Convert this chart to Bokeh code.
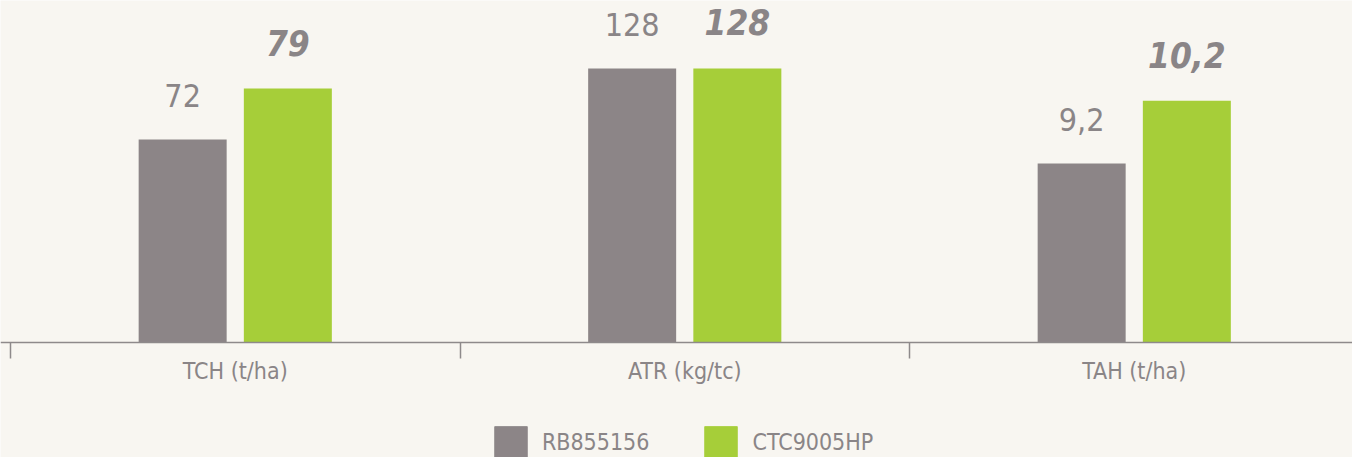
from bokeh.plotting import figure
from bokeh.models import Range1d, FixedTicker, Legend, LegendItem, LinearAxis
from bokeh.embed import file_html
from bokeh.resources import INLINE
from bokeh.core.properties import value

# ---- data -------------------------------------------------------------
categories = ["TCH (t/ha)", "ATR (kg/tc)", "TAH (t/ha)"]
series_names = ["RB855156", "CTC9005HP"]
rb855156 = [72, 128, 9.2]
ctc9005hp = [79, 128, 10.2]

# each indicator is drawn on its own value scale (as in the original):
# value at the category axis line, value at the top of the plot area
axis_min = [44.2, 0, 6.35]
axis_top = [91.1, 159.8, 11.8]

# ---- style / layout ---------------------------------------------------
FONT = "'Liberation Sans Narrow', 'Arial Narrow', 'DejaVu Sans Condensed', sans-serif"
GRAY = "#8c8587"
GREEN = "#a6ce39"
TEXT = "#8a8587"
AXIS = "#8e8a8b"
BG = "#f8f6f1"

W, H = 1352, 457
BAND_PX = 449.5          # width of one category band in px
FIRST_TICK_PX = 10       # left category boundary
ABOVE_PX = 341.5         # plot height above the category axis line
BELOW_PX = H - ABOVE_PX  # space under the axis line (labels, legend)

p = figure(width=W, height=H, output_backend="svg", toolbar_location=None,
           x_range=Range1d(0.5 - FIRST_TICK_PX / BAND_PX,
                           0.5 + (W - FIRST_TICK_PX) / BAND_PX),
           y_range=Range1d(-BELOW_PX, ABOVE_PX),
           x_axis_location=None, y_axis_location=None,
           min_border_left=0, min_border_right=0, min_border_top=0,
           min_border_bottom=0,
           background_fill_color=BG, border_fill_color=BG,
           outline_line_color=None)
p.xgrid.visible = False
p.ygrid.visible = False

bar_w = 88 / BAND_PX
dodge = 0.117


def fmt(v):
    return f"{v:g}".replace(".", ",")


series = [rb855156, ctc9005hp]
colors = [GRAY, GREEN]
styles = ["normal", "bold italic"]
sizes = ["32px", "35px"]
offsets = [-44, -46]
legend_renderers = [[], []]

for i, cat in enumerate(categories):
    rname = f"g{i}"
    span = axis_top[i] - axis_min[i]
    p.extra_y_ranges[rname] = Range1d(axis_min[i] - span * BELOW_PX / ABOVE_PX,
                                      axis_top[i])
    xc = i + 1
    for s, vals in enumerate(series):
        x = xc + (-dodge if s == 0 else dodge)
        r = p.vbar(x=[x], top=[vals[i]], bottom=axis_min[i], width=bar_w,
                   y_range_name=rname, fill_color=colors[s], line_color=None)
        legend_renderers[s].append(r)
        p.text(x=[x], y=[vals[i]], text=[fmt(vals[i])], y_range_name=rname,
               text_align="center", text_baseline="middle",
               y_offset=offsets[s], text_font=value(FONT),
               text_font_size=sizes[s], text_font_style=styles[s],
               text_color=TEXT)

ax = LinearAxis(fixed_location=0)
ax.ticker = FixedTicker(ticks=[i + 1 for i in range(len(categories))],
                        minor_ticks=[i + 0.5 for i in range(len(categories) + 1)])
ax.major_label_overrides = {i + 1: c for i, c in enumerate(categories)}
ax.major_tick_out = 0
ax.major_tick_in = 0
ax.minor_tick_out = 16
ax.minor_tick_in = 0
ax.minor_tick_line_color = AXIS
ax.minor_tick_line_width = 1.5
ax.axis_line_color = AXIS
ax.axis_line_width = 1.5
ax.major_label_standoff = 0
ax.major_label_text_font = FONT
ax.major_label_text_font_size = "23px"
ax.major_label_text_color = TEXT
p.add_layout(ax, "below")

legend = Legend(items=[LegendItem(label=series_names[s], renderers=legend_renderers[s])
                       for s in range(2)],
                orientation="horizontal", location=(489.9, -5.5),
                glyph_width=41, glyph_height=41, label_standoff=11, spacing=51,
                padding=0, margin=0, border_line_color=None,
                background_fill_alpha=0, label_text_font=FONT,
                label_text_font_size="23px", label_text_color=TEXT)
p.add_layout(legend)

open("out.html", "w").write(file_html(p, INLINE))
